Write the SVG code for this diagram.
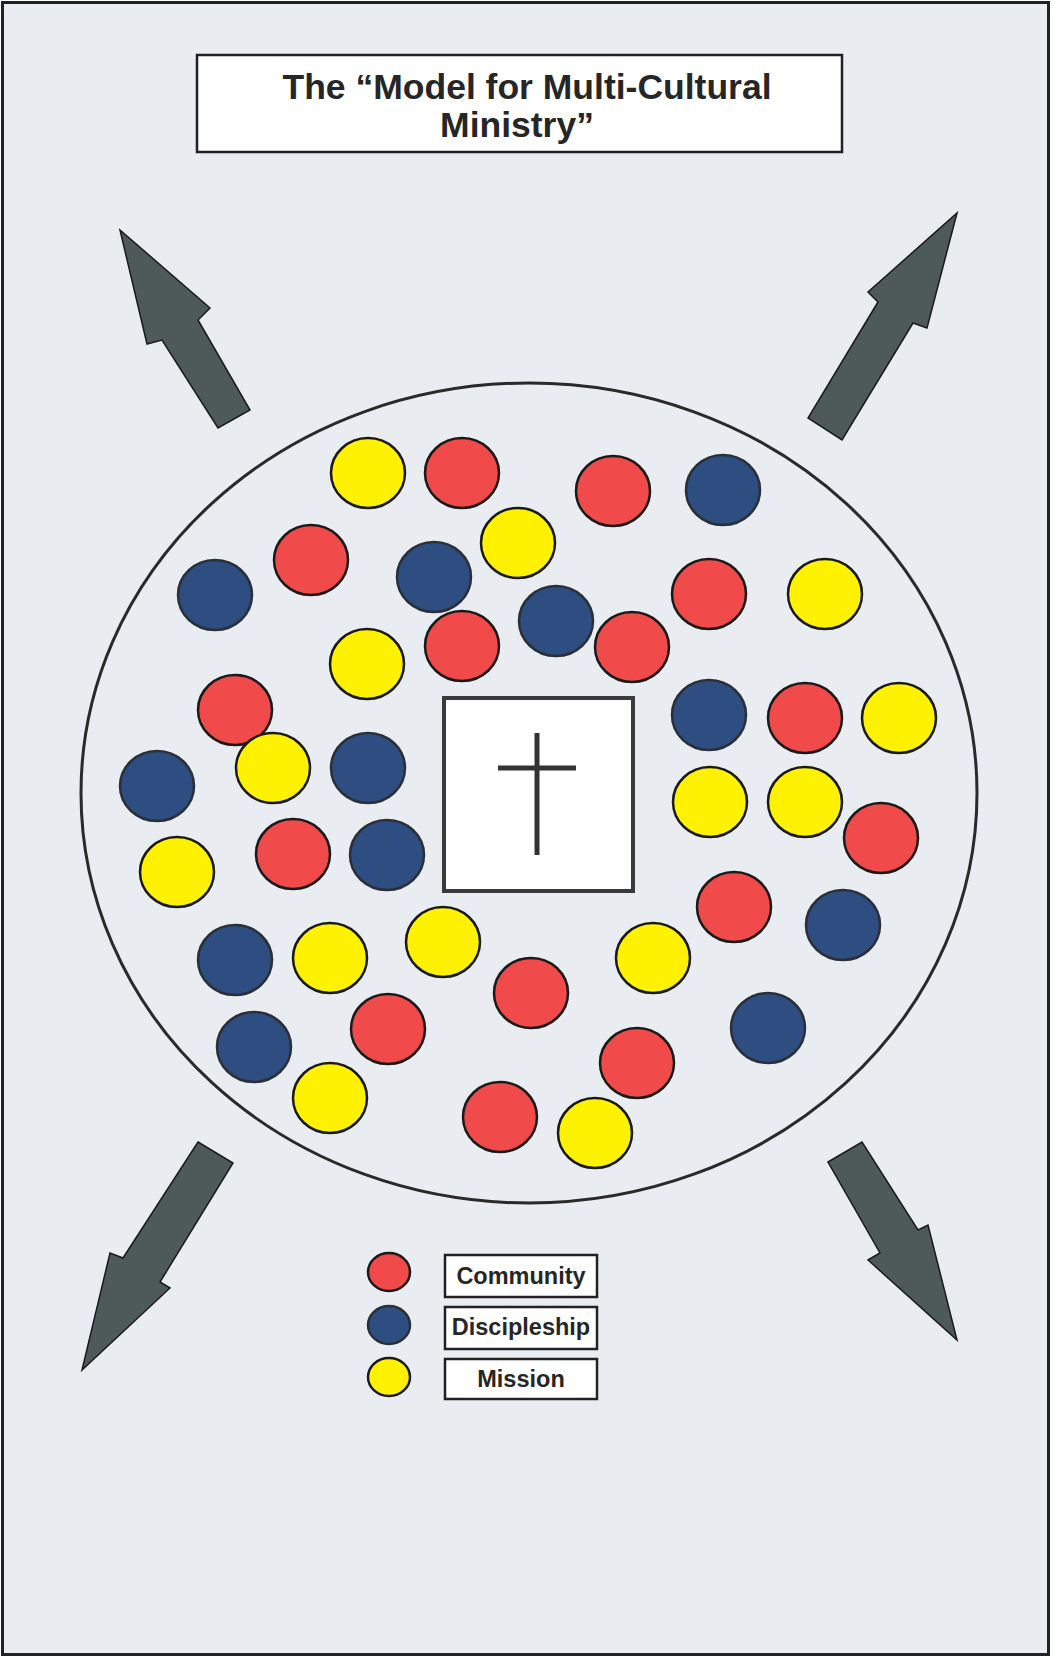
<svg xmlns="http://www.w3.org/2000/svg" width="1054" height="1660" viewBox="0 0 1054 1660">
<style>
.bg{fill:#e9ecf0;stroke:#222;stroke-width:3}
.box{fill:#fff;stroke:#222;stroke-width:2.5}
.t{font-family:"Liberation Sans",Arial,sans-serif;font-weight:bold;fill:#262626;text-anchor:middle}
.r{fill:#f04a4a;stroke:#1a1a1a;stroke-width:2.5}
.b{fill:#2e4e82;stroke:#2a2f38;stroke-width:2.5}
.y{fill:#fff200;stroke:#1a1a1a;stroke-width:2.5}
.arr{fill:#4e5a5a;stroke:#1a1a1a;stroke-width:1.5;stroke-linejoin:miter}
</style>
<rect class="bg" x="2.5" y="2.5" width="1046" height="1652"/>
<g id="title">
<rect class="box" x="197" y="55" width="645" height="97"/>
<text class="t" x="527" y="99" font-size="35.5">The “Model for Multi-Cultural</text>
<text class="t" x="517" y="137" font-size="35.5">Ministry”</text>
</g>
<g id="connectors">
<polygon class="arr" points="120,230 210,308 198,320 250,410 218,428 162,340 147,344"/>
<polygon class="arr" points="957,213 927,328 913,323 842,440 808,418 878,302 868,292"/>
<polygon class="arr" points="198,1142 233,1163 160,1282 170,1288 82,1370 110,1253 123,1258"/>
<polygon class="arr" points="828,1162 862,1142 918,1230 928,1225 957,1340 868,1260 880,1253"/>
</g>
<g id="church">
<ellipse cx="529" cy="793" rx="448" ry="410" fill="none" stroke="#2a2a2a" stroke-width="3"/>
</g>
<g id="dots">
<ellipse class="y" cx="368" cy="473" rx="37" ry="35"/>
<ellipse class="r" cx="462" cy="473" rx="37" ry="35"/>
<ellipse class="r" cx="613" cy="491" rx="37" ry="35"/>
<ellipse class="b" cx="723" cy="490" rx="37" ry="35"/>
<ellipse class="y" cx="518" cy="543" rx="37" ry="35"/>
<ellipse class="r" cx="311" cy="560" rx="37" ry="35"/>
<ellipse class="b" cx="434" cy="577" rx="37" ry="35"/>
<ellipse class="b" cx="215" cy="595" rx="37" ry="35"/>
<ellipse class="r" cx="709" cy="594" rx="37" ry="35"/>
<ellipse class="y" cx="825" cy="594" rx="37" ry="35"/>
<ellipse class="b" cx="556" cy="621" rx="37" ry="35"/>
<ellipse class="r" cx="462" cy="646" rx="37" ry="35"/>
<ellipse class="r" cx="632" cy="647" rx="37" ry="35"/>
<ellipse class="y" cx="367" cy="664" rx="37" ry="35"/>
<ellipse class="r" cx="235" cy="710" rx="37" ry="35"/>
<ellipse class="b" cx="709" cy="715" rx="37" ry="35"/>
<ellipse class="r" cx="805" cy="718" rx="37" ry="35"/>
<ellipse class="y" cx="899" cy="718" rx="37" ry="35"/>
<ellipse class="y" cx="273" cy="768" rx="37" ry="35"/>
<ellipse class="b" cx="368" cy="768" rx="37" ry="35"/>
<ellipse class="b" cx="157" cy="786" rx="37" ry="35"/>
<ellipse class="y" cx="710" cy="802" rx="37" ry="35"/>
<ellipse class="y" cx="805" cy="802" rx="37" ry="35"/>
<ellipse class="r" cx="881" cy="838" rx="37" ry="35"/>
<ellipse class="y" cx="177" cy="872" rx="37" ry="35"/>
<ellipse class="r" cx="293" cy="854" rx="37" ry="35"/>
<ellipse class="b" cx="387" cy="855" rx="37" ry="35"/>
<ellipse class="r" cx="734" cy="907" rx="37" ry="35"/>
<ellipse class="b" cx="843" cy="925" rx="37" ry="35"/>
<ellipse class="y" cx="443" cy="942" rx="37" ry="35"/>
<ellipse class="y" cx="330" cy="958" rx="37" ry="35"/>
<ellipse class="b" cx="235" cy="960" rx="37" ry="35"/>
<ellipse class="y" cx="653" cy="958" rx="37" ry="35"/>
<ellipse class="r" cx="531" cy="993" rx="37" ry="35"/>
<ellipse class="b" cx="768" cy="1028" rx="37" ry="35"/>
<ellipse class="r" cx="388" cy="1029" rx="37" ry="35"/>
<ellipse class="b" cx="254" cy="1047" rx="37" ry="35"/>
<ellipse class="r" cx="637" cy="1063" rx="37" ry="35"/>
<ellipse class="y" cx="330" cy="1098" rx="37" ry="35"/>
<ellipse class="r" cx="500" cy="1117" rx="37" ry="35"/>
<ellipse class="y" cx="595" cy="1133" rx="37" ry="35"/>
</g>
<g id="cross-box">
<rect x="444" y="698" width="189" height="193" fill="#fff" stroke="#3a3a3a" stroke-width="4"/>
<line x1="537" y1="733" x2="537" y2="855" stroke="#333" stroke-width="5"/>
<line x1="498" y1="768" x2="576" y2="768" stroke="#333" stroke-width="5"/>
</g>
<g id="legend-community">
<ellipse class="r" cx="389" cy="1272" rx="21" ry="19"/>
<rect class="box" x="445" y="1255" width="152" height="42"/>
<text class="t" x="521" y="1284" font-size="23.5">Community</text>
</g>
<g id="legend-discipleship">
<ellipse class="b" cx="389" cy="1325" rx="21" ry="19"/>
<rect class="box" x="445" y="1307" width="152" height="42"/>
<text class="t" x="521" y="1335" font-size="23.5">Discipleship</text>
</g>
<g id="legend-mission">
<ellipse class="y" cx="389" cy="1377" rx="21" ry="19"/>
<rect class="box" x="445" y="1359" width="152" height="40"/>
<text class="t" x="521" y="1387" font-size="23.5">Mission</text>
</g>
</svg>
